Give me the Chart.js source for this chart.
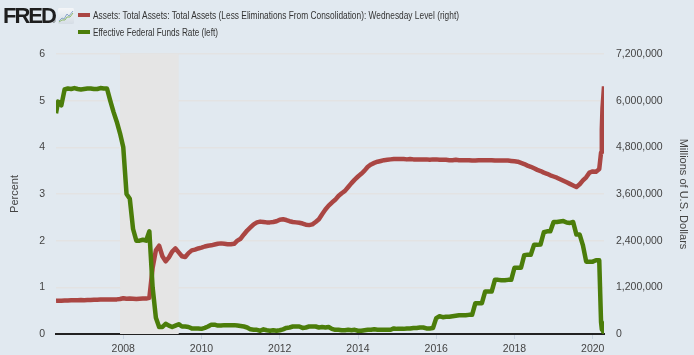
<!DOCTYPE html>
<html><head><meta charset="utf-8">
<script src="https://cdn.jsdelivr.net/npm/chart.js@4.4.1/dist/chart.umd.min.js"></script>
<style>
html,body{margin:0;padding:0;background:#e1e9f0;}
#wrap{position:relative;width:694px;height:355px;overflow:hidden;background:#e1e9f0;}
canvas{position:absolute;left:0;top:0;}
.logo{position:absolute;left:3px;top:5px;font:bold 22px "Liberation Sans",Arial,sans-serif;line-height:22px;letter-spacing:-2px;color:#1e1e1e;}
.reg{position:absolute;left:52px;top:18px;font:5px "Liberation Sans",sans-serif;color:#222;}
.icon{position:absolute;left:58px;top:8px;width:16px;height:16px;}
.leg{position:absolute;left:78px;height:14px;font:11px "Liberation Sans Narrow","Liberation Sans",sans-serif;color:#333;white-space:nowrap;}
.sw{position:absolute;left:0;top:5px;width:12px;height:4px;}
.lt{position:absolute;left:15px;top:0;line-height:14px;transform-origin:0 50%;}
</style></head>
<body>
<div id="wrap">
<canvas id="c" width="694" height="355"></canvas>
<div class="logo">FRED</div>
<div class="reg">®</div>
<svg class="icon" viewBox="0 0 16 16"><defs><linearGradient id="g" x1="0" y1="0" x2="0" y2="1"><stop offset="0" stop-color="#f4f6f8"/><stop offset="1" stop-color="#d5dde5"/></linearGradient></defs><rect x="0" y="0" width="16" height="16" rx="1.5" fill="url(#g)"/><polyline points="1,13 4,10 6,11 9,6 11,8 15,3" fill="none" stroke="#8aa6c8" stroke-width="1"/><polyline points="1,14 4,12 7,12 9,9 12,9 15,5" fill="none" stroke="#8db96b" stroke-width="1"/></svg>
<div class="leg" id="leg1" style="top:8px"><div class="sw" style="background:#aa4643"></div><div class="lt" id="lt1">Assets: Total Assets: Total Assets (Less Eliminations From Consolidation): Wednesday Level (right)</div></div>
<div class="leg" id="leg2" style="top:25px"><div class="sw" style="background:#4b7d0a"></div><div class="lt" id="lt2">Effective Federal Funds Rate (left)</div></div>
</div>
<script>
// Categories: observation dates
const dates = [
'2006-04-12','2006-05','2006-06','2006-07','2006-08','2006-09','2006-10','2006-11','2006-12',
'2007-01','2007-02','2007-03','2007-04','2007-05','2007-06','2007-07','2007-08','2007-09','2007-10','2007-11','2007-12',
'2008-01','2008-02','2008-03','2008-04','2008-05','2008-06','2008-07','2008-08','2008-09','2008-10','2008-11','2008-12',
'2009-01','2009-02','2009-03','2009-04','2009-05','2009-06','2009-07','2009-08','2009-09','2009-10','2009-11','2009-12',
'2010-01','2010-02','2010-03','2010-04','2010-05','2010-06','2010-07','2010-08','2010-09','2010-10','2010-11','2010-12',
'2011-01','2011-02','2011-03','2011-04','2011-05','2011-06','2011-07','2011-08','2011-09','2011-10','2011-11','2011-12',
'2012-01','2012-02','2012-03','2012-04','2012-05','2012-06','2012-07','2012-08','2012-09','2012-10','2012-11','2012-12',
'2013-01','2013-02','2013-03','2013-04','2013-05','2013-06','2013-07','2013-08','2013-09','2013-10','2013-11','2013-12',
'2014-01','2014-02','2014-03','2014-04','2014-05','2014-06','2014-07','2014-08','2014-09','2014-10','2014-11','2014-12',
'2015-01','2015-02','2015-03','2015-04','2015-05','2015-06','2015-07','2015-08','2015-09','2015-10','2015-11','2015-12',
'2016-01','2016-02','2016-03','2016-04','2016-05','2016-06','2016-07','2016-08','2016-09','2016-10','2016-11','2016-12',
'2017-01','2017-02','2017-03','2017-04','2017-05','2017-06','2017-07','2017-08','2017-09','2017-10','2017-11','2017-12',
'2018-01','2018-02','2018-03','2018-04','2018-05','2018-06','2018-07','2018-08','2018-09','2018-10','2018-11','2018-12',
'2019-01','2019-02','2019-03','2019-04','2019-05','2019-06','2019-07','2019-08','2019-09','2019-10','2019-11','2019-12',
'2020-01','2020-02','2020-03','2020-03-18','2020-03-25','2020-04-01','2020-04-08','2020-04-15'
];

// Effective Federal Funds Rate, percent (left axis)
const fedFunds = [
4.73,4.98,4.90,5.24,5.26,5.25,5.27,5.25,5.24,
5.25,5.26,5.26,5.25,5.25,5.27,5.26,5.26,5.00,4.76,4.55,4.30,
4.00,3.00,2.90,2.25,2.00,2.00,2.02,2.00,2.20,1.00,0.35,0.15,
0.15,0.22,0.18,0.15,0.18,0.21,0.16,0.16,0.15,0.12,0.12,0.12,
0.11,0.13,0.16,0.20,0.20,0.18,0.18,0.19,0.19,0.19,0.19,0.18,
0.17,0.16,0.14,0.10,0.09,0.09,0.07,0.10,0.08,0.07,0.08,0.07,
0.08,0.10,0.13,0.14,0.16,0.16,0.16,0.13,0.14,0.16,0.16,0.16,
0.14,0.15,0.14,0.15,0.11,0.09,0.09,0.08,0.08,0.09,0.08,0.09,
0.07,0.07,0.08,0.09,0.09,0.10,0.09,0.09,0.09,0.09,0.09,0.12,
0.11,0.11,0.11,0.12,0.12,0.13,0.13,0.14,0.14,0.12,0.12,0.13,
0.34,0.38,0.36,0.37,0.37,0.38,0.39,0.40,0.40,0.40,0.41,0.41,
0.66,0.66,0.66,0.91,0.91,0.91,1.16,1.16,1.15,1.15,1.16,1.16,
1.42,1.42,1.42,1.69,1.70,1.70,1.91,1.91,1.92,2.18,2.20,2.20,
2.40,2.40,2.41,2.42,2.39,2.38,2.40,2.13,2.13,1.90,1.55,1.55,
1.55,1.58,1.58,0.25,0.10,0.08,0.05,0.05
];

// Total assets, millions of U.S. dollars (right axis)
const totalAssets = [
853000,856000,858000,860000,862000,865000,866000,868000,872000,
870000,874000,876000,880000,882000,884000,886000,890000,888000,885000,890000,900000,
920000,905000,910000,905000,900000,905000,910000,910000,930000,1700000,2150000,2270000,
2000000,1870000,1970000,2120000,2200000,2100000,2000000,1980000,2080000,2150000,2170000,2200000,
2220000,2250000,2270000,2280000,2300000,2320000,2330000,2320000,2310000,2310000,2320000,2400000,
2450000,2560000,2660000,2740000,2820000,2870000,2890000,2880000,2870000,2870000,2880000,2900000,
2940000,2950000,2930000,2900000,2880000,2870000,2860000,2840000,2810000,2800000,2820000,2880000,
2950000,3080000,3200000,3300000,3380000,3450000,3550000,3620000,3680000,3780000,3880000,3970000,
4050000,4120000,4200000,4300000,4360000,4400000,4430000,4450000,4470000,4480000,4490000,4500000,
4500000,4500000,4500000,4490000,4500000,4490000,4490000,4490000,4490000,4490000,4480000,4490000,
4490000,4480000,4480000,4480000,4470000,4470000,4480000,4470000,4470000,4470000,4470000,4460000,
4460000,4470000,4470000,4470000,4470000,4470000,4460000,4460000,4460000,4460000,4460000,4450000,
4440000,4430000,4400000,4370000,4330000,4300000,4260000,4220000,4190000,4150000,4120000,4080000,
4050000,4020000,3980000,3940000,3900000,3860000,3820000,3780000,3850000,3950000,4030000,4150000,
4180000,4170000,4240000,4670000,5250000,5810000,6080000,6370000
];

// Recession (shaded)
const recessionStart = ['2007-12'];
const recessionEnd = ['2009-06'];

// Axis ticks
const xTickYears = [2008, 2010, 2012, 2014, 2016, 2018, 2020];
const leftTicks = [0, 1, 2, 3, 4, 5, 6];
const rightTicks = [0, 1200000, 2400000, 3600000, 4800000, 6000000, 7200000];

function toYear(s) {
  const p = s.split('-').map(Number);
  const m = p[1] || 1, d = p[2] || 1;
  return p[0] + (m - 1) / 12 + (d - 1) / 365.25;
}
const xs = dates.map(toYear);

const recessionPlugin = {
  id: 'recession',
  beforeDatasetsDraw(chart) {
    const {ctx, chartArea: a, scales: {x}} = chart;
    ctx.save();
    ctx.fillStyle = '#e5e5e5';
    recessionStart.forEach((s, i) => {
      const x0 = x.getPixelForValue(toYear(s));
      const x1 = x.getPixelForValue(toYear(recessionEnd[i]));
      ctx.fillRect(x0, a.top, x1 - x0, a.bottom - a.top);
    });
    ctx.restore();
  }
};

const tickFont = {family: '"Liberation Sans", Arial, sans-serif', size: 10.5};
const titleFont = {family: '"Liberation Sans", Arial, sans-serif', size: 11};

new Chart(document.getElementById('c'), {
  type: 'line',
  data: {
    datasets: [
      {
        label: 'Effective Federal Funds Rate (left)',
        data: xs.map((x, i) => ({x, y: fedFunds[i]})),
        borderColor: '#4b7d0a', borderWidth: 4.5, pointRadius: 0,
        yAxisID: 'y', order: 0, tension: 0, borderJoinStyle: 'round'
      },
      {
        label: 'Assets: Total Assets: Total Assets (Less Eliminations From Consolidation): Wednesday Level (right)',
        data: xs.map((x, i) => ({x, y: totalAssets[i]})),
        borderColor: '#aa4643', borderWidth: 4.5, pointRadius: 0,
        yAxisID: 'y1', order: 1, tension: 0, borderJoinStyle: 'round'
      }
    ]
  },
  options: {
    responsive: false,
    animation: false,
    devicePixelRatio: 1,
    layout: {padding: {top: 54, left: 0, right: 0, bottom: 0}},
    plugins: {legend: {display: false}, tooltip: {enabled: false}},
    scales: {
      x: {
        type: 'linear',
        position: 'bottom',
        min: xs[0],
        max: xs[xs.length - 1],
        afterBuildTicks(s) { s.ticks = xTickYears.map(v => ({value: v})); },
        afterFit(s) { s.height = 21; },
        grid: {display: true, drawOnChartArea: false, drawTicks: true, tickLength: 5, color: '#c8d3e0', lineWidth: 1},
        border: {display: true, color: '#222', width: 2},
        ticks: {font: tickFont, color: '#444', padding: 4, maxRotation: 0, callback: v => String(v)}
      },
      y: {
        position: 'left',
        min: 0, max: 6,
        afterBuildTicks(s) { s.ticks = leftTicks.map(v => ({value: v})); },
        afterFit(s) { s.width = 56; },
        grid: {color: '#e3e3e3', lineWidth: 1.5, drawTicks: false},
        border: {display: false},
        ticks: {font: tickFont, color: '#444', padding: 11, callback: v => String(v)},
        title: {display: true, text: 'Percent', font: titleFont, color: '#444', padding: {top: 8, bottom: 0}}
      },
      y1: {
        position: 'right',
        min: 0, max: 7200000,
        afterBuildTicks(s) { s.ticks = rightTicks.map(v => ({value: v})); },
        afterFit(s) { s.width = 90; },
        grid: {drawOnChartArea: false, drawTicks: false},
        border: {display: false},
        ticks: {font: tickFont, color: '#444', padding: 12, callback: v => v.toLocaleString('en-US')},
        title: {display: true, text: 'Millions of U.S. Dollars', font: titleFont, color: '#444', padding: {top: 4, bottom: 0}}
      }
    }
  },
  plugins: [recessionPlugin]
});

// fit legend texts to the reference widths
function fit(id, w) {
  const el = document.getElementById(id);
  const cw = el.getBoundingClientRect().width;
  if (cw > 0) el.style.transform = 'scaleX(' + (w / cw) + ')';
}
fit('lt1', 366);
fit('lt2', 125);
</script>
</body></html>
